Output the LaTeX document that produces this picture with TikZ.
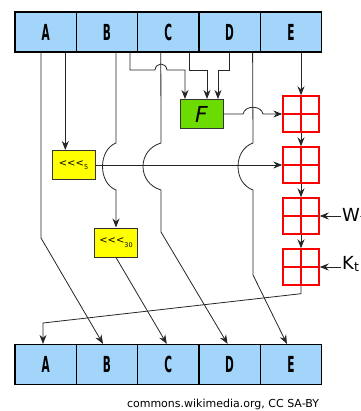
\documentclass[tikz,border=0pt]{standalone}
\usepackage{fontspec}
\setmainfont{DejaVu Sans}
\usetikzlibrary{arrows.meta}
\definecolor{regblue}{HTML}{A3D5FA}
\definecolor{fgreen}{HTML}{6CDC00}
\definecolor{rotyellow}{HTML}{FFFF00}
\newcommand{\reglabel}[1]{\fontsize{17}{17}\selectfont\bfseries\scalebox{0.62}[1.3]{#1}}
\newcommand{\rotlabel}[1]{\fontsize{10}{10}\selectfont <{}<{}<\raisebox{-3.5pt}{\fontsize{6.5}{6.5}\selectfont #1}}

\begin{document}
\begin{tikzpicture}[x=1pt,y=-1pt,
  reg/.style={draw=black, line width=1.2pt, fill=regblue, minimum width=61.3pt, minimum height=40pt, inner sep=0pt},
  rotbox/.style={draw=black!80, line width=1pt, fill=rotyellow, minimum width=43pt, minimum height=29pt, inner sep=0pt},
  fbox/.style={draw=black!80, line width=1pt, fill=fgreen, minimum width=43pt, minimum height=29pt, inner sep=0pt},
  adder/.style={draw=red, line width=1.4pt, minimum size=36pt, inner sep=0pt,
    path picture={\draw[red, line width=1.4pt] (path picture bounding box.north) -- (path picture bounding box.south)
      (path picture bounding box.west) -- (path picture bounding box.east);}},
  wire/.style={black!85, line width=0.8pt},
  arr/.style={wire, -{Stealth[length=9pt,width=7pt]}},
]
\useasboundingbox (0,0) rectangle (360,411);

% registers, before and after
\foreach \n/\l [count=\i from 0] in {a/A,b/B,c/C,d/D,e/E} {
  \node[reg] (\n) at (45.7+61.3*\i,32) {\reglabel{\l}};
  \node[reg] (\n2) at (45.7+61.3*\i,364.5) {\reglabel{\l}};
}

\node[fbox] (f) at (201.5,114) {\fontsize{22}{22}\selectfont\itshape F};
\node[rotbox] (rot5) at (73.5,165) {\rotlabel{5}};
\node[rotbox] (rot30) at (116,242.5) {\rotlabel{30}};

\foreach \n/\y in {1/114,2/165,3/216,4/267}
  \node[adder] (add\n) at (301,\y) {};

\node[anchor=base west, inner sep=1pt] (wt) at (341,221) {\fontsize{18}{18}\selectfont W\textsubscript{t}};
\node[anchor=base west, inner sep=1pt] (kt) at (341,269) {\fontsize{18}{18}\selectfont K\textsubscript{t}};

\coordinate (fin1) at ([xshift=-16.5]f.north);
\coordinate (fin2) at ([xshift=5.5]f.north);
\coordinate (fin3) at ([xshift=16.5]f.north);

% inputs of F
\draw[arr] ([xshift=23]b.south) |- (155,70) .. controls (156,62) and (166,62) .. (167,70) -| (fin1);
\draw[arr] ([xshift=21.5]c.south) -- ++(0,18) -| (fin2);
\draw[arr] (d.south) -- ++(0,18) -| (fin3);

% adder chain
\draw[arr] (e.south -| add1) -- (add1.north);
\draw[arr] (f.east) -- (243,114) .. controls (245,105) and (261,105) .. (263,114) -- (add1.west);
\draw[arr] (rot5.east) -- (add2.west);
\foreach \i/\j in {1/2,2/3,3/4}
  \draw[arr] (add\i.south) -- (add\j.north);
\draw[arr] (wt.west |- add3.east) -- (add3.east);
\draw[arr] (kt.west |- add4.east) -- (add4.east);

% shifted words
\draw[arr] ([xshift=19.6]a.south) -- ([xshift=-8.2]rot5.north);
\draw[arr] ([xshift=-4.7]a.south) -- (41,238) -- ([xshift=-4]b2.north);
\draw[arr] ([xshift=9]b.south) -- (116,143) .. controls (98,150) and (98,183) .. (116,190) -- (rot30.north);
\draw[arr] (rot30.south) -- ([xshift=-1.5]c2.north);
\draw[arr] ([xshift=-7.5]c.south) -- (161,143) .. controls (137,150) and (137,183) .. (161,190) -- (161,232) -- ([xshift=-2]d2.north);
\draw[arr] ([xshift=23]d.south) -- (253,143) .. controls (233,150) and (233,183) .. (253,190) -- (253,275) -- ([xshift=-4]e2.north);
\draw[arr] (add4.south) -- ++(0,8) -- (43,323) -- ([xshift=-2.7]a2.north);

\node (credit) at (223,404) {\fontsize{11}{11}\selectfont commons.wikimedia.org, CC SA-BY};
\end{tikzpicture}
\end{document}
